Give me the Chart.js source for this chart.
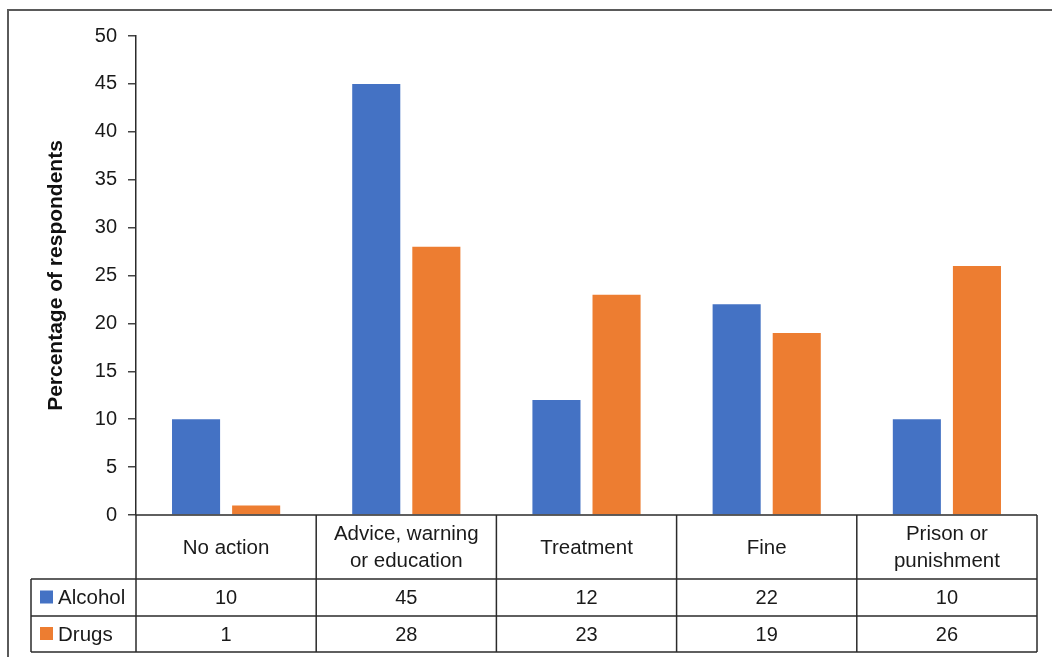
<!DOCTYPE html>
<html>
<head>
<meta charset="utf-8">
<script src="https://cdn.jsdelivr.net/npm/chart.js@4/dist/chart.umd.min.js"></script>
<style>
  html, body { margin: 0; padding: 0; background: #fff; }
  #wrap { width: 1052px; height: 657px; }
</style>
</head>
<body>
<div id="wrap"><canvas id="c" width="1052" height="657"></canvas></div>
<script>
// Responses by type of action
const categories = [["No action"], ["Advice, warning", "or education"], ["Treatment"], ["Fine"], ["Prison or", "punishment"]];
const seriesNames = ["Alcohol", "Drugs"];
const alcohol = [10, 45, 12, 22, 10];
const drugs = [1, 28, 23, 19, 26];
const seriesColors = ["#4472C4", "#ED7D31"];
const yTicks = [0, 5, 10, 15, 20, 25, 30, 35, 40, 45, 50];

const FONT = "'Liberation Sans', Arial, Helvetica, sans-serif";
const LINE = "#2b2b2b";
const TEXT = "#1a1a1a";

// Outer frame plus the data table under the plot
const tablePlugin = {
  id: 'dataTable',
  beforeDraw(chart) {
    const ctx = chart.ctx;
    ctx.save();
    ctx.strokeStyle = "#5a5a5a";
    ctx.lineWidth = 2;
    ctx.beginPath();
    ctx.moveTo(8, 657);
    ctx.lineTo(8, 10);
    ctx.lineTo(1052, 10);
    ctx.stroke();
    ctx.restore();
  },
  afterDraw(chart) {
    const ctx = chart.ctx;
    const xs = chart.scales.x;
    const area = chart.chartArea;
    const n = categories.length;
    const cw = (area.right - area.left) / n;
    const top = area.bottom;
    const headBottom = top + 64;
    const rowH = 37;
    const row1 = headBottom + rowH;
    const row2 = row1 + rowH - 1;
    const legendLeft = 31;

    ctx.save();
    ctx.strokeStyle = LINE;
    ctx.lineWidth = 1.5;
    ctx.beginPath();
    // axis baseline / table top
    ctx.moveTo(area.left, top); ctx.lineTo(area.right, top);
    // row separators
    [headBottom, row1, row2].forEach(y => { ctx.moveTo(legendLeft, y); ctx.lineTo(area.right, y); });
    // column separators
    for (let i = 0; i <= n; i++) {
      const x = area.left + i * cw;
      ctx.moveTo(x, top); ctx.lineTo(x, row2);
    }
    ctx.moveTo(legendLeft, headBottom); ctx.lineTo(legendLeft, row2);
    ctx.stroke();

    ctx.fillStyle = TEXT;
    ctx.font = "20.5px " + FONT;
    ctx.textAlign = "center";
    ctx.textBaseline = "middle";
    categories.forEach((lines, i) => {
      const cx = xs.getPixelForValue(i);
      const mid = (top + headBottom) / 2;
      const lh = 27;
      lines.forEach((t, k) => {
        ctx.fillText(t, cx, mid + 1 + (k - (lines.length - 1) / 2) * lh);
      });
    });

    const rows = [alcohol, drugs];
    const rowMids = [(headBottom + row1) / 2, (row1 + row2) / 2];
    rows.forEach((vals, r) => {
      ctx.font = "20px " + FONT;
      vals.forEach((v, i) => {
        ctx.fillText(String(v), xs.getPixelForValue(i), rowMids[r] + 1);
      });
      // legend key
      ctx.fillStyle = seriesColors[r];
      ctx.fillRect(40, rowMids[r] - 7, 13, 13);
      ctx.fillStyle = TEXT;
      ctx.textAlign = "left";
      ctx.font = "20.5px " + FONT;
      ctx.fillText(seriesNames[r], 58, rowMids[r] + 1);
      ctx.textAlign = "center";
    });
    ctx.restore();
  }
};

new Chart(document.getElementById('c'), {
  type: 'bar',
  data: {
    labels: categories,
    datasets: [
      { label: seriesNames[0], data: alcohol, backgroundColor: seriesColors[0] },
      { label: seriesNames[1], data: drugs, backgroundColor: seriesColors[1] }
    ]
  },
  options: {
    responsive: false,
    animation: false,
    events: [],
    layout: { padding: { left: 0, top: 36, right: 15, bottom: 142 } },
    datasets: { bar: { barPercentage: 0.8, categoryPercentage: 0.667 } },
    plugins: { legend: { display: false }, tooltip: { enabled: false } },
    scales: {
      x: { display: false },
      y: {
        min: 0, max: 50,
        afterBuildTicks: s => { s.ticks = yTicks.map(v => ({ value: v })); },
        afterFit: s => { s.width = 136; },
        border: { display: true, color: LINE, width: 1.5 },
        grid: { drawOnChartArea: false, drawTicks: true, tickLength: 8, color: "#444", lineWidth: 1.5 },
        ticks: { padding: 11, color: TEXT, font: { family: FONT, size: 20 } },
        title: {
          display: true,
          text: "Percentage of respondents",
          color: "#111",
          font: { family: FONT, size: 21, weight: 'bold' },
          padding: { top: 44, bottom: 0 }
        }
      }
    }
  },
  plugins: [tablePlugin]
});
</script>
</body>
</html>
